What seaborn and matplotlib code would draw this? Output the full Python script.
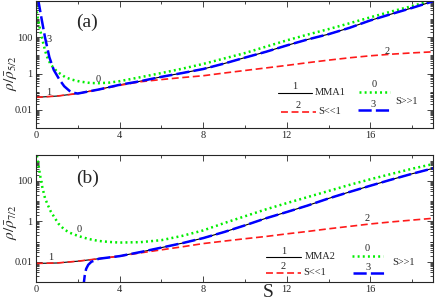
import numpy as np
import seaborn as sns
import matplotlib.pyplot as plt
from matplotlib.ticker import FixedLocator, LogLocator, NullFormatter

# ---- panel (a) data ----
s_a = [0, 1, 2, 3, 4, 5, 6, 7, 8, 9, 10, 11, 12, 13, 14, 15, 16, 17, 18, 19]
mma1_a = [0.049, 0.0575, 0.0794, 0.132, 0.24, 0.38, 0.661, 1.07, 1.78, 3.55,
          7.59, 15.8, 35.5, 75.9, 148, 331, 851, 1905, 4169, 9550]
small_a = [0.049, 0.0575, 0.0794, 0.132, 0.224, 0.355, 0.468, 0.603, 0.759, 1.07,
           1.48, 2.04, 2.82, 3.98, 5.5, 7.41, 9.55, 11.7, 13.8, 15.8]
s_large0_a = [0, 0.1, 0.2, 0.35, 0.5, 0.7, 1.0, 1.4, 1.7, 2.1, 2.6, 3.0, 3.5, 4,
              5, 6, 7, 8, 9, 10, 11, 12, 13, 14, 15, 16, 17, 18, 19]
large0_a = [5012, 891, 251, 44.7, 10, 3.16, 1.32, 0.631, 0.468, 0.363, 0.302, 0.295,
            0.316, 0.38, 0.631, 1.07, 1.86, 3.39, 6.76, 13.5, 30.2, 67.6, 141, 282,
            589, 1259, 2630, 5248, 11220]
s_large3_a = [0.1, 0.27, 0.43, 0.64, 0.85, 1.12, 1.35, 1.6, 1.8, 2, 3, 4, 5, 6, 7, 8,
              9, 10, 11, 12, 13, 14, 15, 16, 17, 18, 19]
large3_a = [12590, 1000, 100, 7.94, 1.58, 0.468, 0.2, 0.112, 0.0871, 0.0794, 0.132,
            0.24, 0.38, 0.661, 1.07, 1.78, 3.55, 7.59, 15.8, 35.5, 75.9, 148, 331,
            851, 1905, 4169, 9550]

# ---- panel (b) data ----
s_b = [0, 1, 2, 3, 4, 5, 6, 7, 8, 9, 10, 11, 12, 13, 14, 15, 16, 17, 18, 19]
mma2_b = [0.0083, 0.0087, 0.0107, 0.0141, 0.019, 0.0302, 0.0501, 0.0832, 0.148, 0.295,
          0.631, 1.41, 2.88, 6.03, 13.5, 28.2, 57.5, 115, 224, 417]
small_b = [0.0083, 0.0087, 0.0107, 0.0141, 0.019, 0.0275, 0.0389, 0.055, 0.0794, 0.105,
           0.138, 0.178, 0.24, 0.316, 0.427, 0.562, 0.741, 0.933, 1.15, 1.41]
s_large0_b = [0, 0.1, 0.2, 0.3, 0.43, 0.56, 0.7, 0.88, 1.07, 1.36, 1.63, 2.0, 2.5, 3.0,
              3.5, 4, 5, 6, 7, 8, 9, 10, 11, 12, 13, 14, 15, 16, 17, 18, 19]
large0_b = [3162, 794, 178, 50.1, 14.1, 6.61, 3.16, 1.58, 0.776, 0.389, 0.269, 0.191,
            0.135, 0.107, 0.0955, 0.0891, 0.0933, 0.117, 0.191, 0.355, 0.813, 1.78,
            3.89, 7.94, 15.8, 31.6, 63.1, 120, 219, 398, 676]
s_large3_b = [2.26, 2.33, 2.4, 2.5, 2.65, 2.85, 3, 4, 5, 6, 7, 8, 9, 10, 11, 12, 13,
              14, 15, 16, 17, 18, 19]
large3_b = [0.0005, 0.002, 0.00447, 0.00708, 0.01, 0.012, 0.0141, 0.019, 0.0302,
            0.0501, 0.0832, 0.148, 0.295, 0.631, 1.41, 2.88, 6.03, 13.5, 28.2, 57.5,
            115, 224, 417]

sns.set_style('ticks')
plt.rcParams['font.family'] = ['Liberation Serif', 'DejaVu Serif']
plt.rcParams['mathtext.fontset'] = 'stix'
plt.rcParams['lines.scale_dashes'] = False

GREEN = '#00ee00'
RED = '#ff1a1a'
BLUE = '#0000ff'
styles = {
    'black': dict(color='black', lw=0.8, linestyle='-'),
    'red': dict(color=RED, lw=1.2, linestyle=(0, (5, 2.6))),
    'green': dict(color=GREEN, lw=1.8, linestyle=(0, (1.4, 2.3))),
    'blue': dict(color=BLUE, lw=1.8, linestyle=(0, (9.5, 3))),
}

fig = plt.figure(figsize=(4.36, 3.01), dpi=100)
ax_a = fig.add_axes([36 / 436, 173 / 301, 397 / 436, 127 / 301])
ax_b = fig.add_axes([36 / 436, 19 / 301, 397 / 436, 127 / 301])


def draw(ax, s_m, mma, small, s0, large0, s3, large3):
    sns.lineplot(x=s0, y=large0, ax=ax, estimator=None, sort=False, **styles['green'])
    sns.lineplot(x=s_m, y=mma, ax=ax, estimator=None, sort=False, **styles['black'])
    sns.lineplot(x=s_m, y=small, ax=ax, estimator=None, sort=False, **styles['red'])
    sns.lineplot(x=s3, y=large3, ax=ax, estimator=None, sort=False, **styles['blue'])


draw(ax_a, s_a, mma1_a, small_a, s_large0_a, large0_a, s_large3_a, large3_a)
draw(ax_b, s_b, mma2_b, small_b, s_large0_b, large0_b, s_large3_b, large3_b)

ax_a.set_ylim(1e-3, 1e4)
ax_b.set_ylim(1e-3, 1900)

for ax in (ax_a, ax_b):
    ax.set_yscale('log')
    ax.set_xlim(0, 19)
    ax.set_xticks([0, 4, 8, 12, 16])
    ax.set_xticks([2, 6, 10, 14, 18], minor=True)
    ax.yaxis.set_major_locator(FixedLocator([1e-2, 1, 1e2, 1e4]))
    ax.yaxis.set_minor_locator(LogLocator(base=10, subs=np.arange(1, 10), numticks=50))
    ax.yaxis.set_minor_formatter(NullFormatter())
    ax.set_yticklabels(['0.01', '1', '100', ''])
    ax.tick_params(which='both', direction='in', top=True, right=True,
                   labelsize=7.5, width=0.6, pad=2.5)
    ax.tick_params(which='major', length=4)
    ax.tick_params(which='minor', length=2.2)
    for sp in ax.spines.values():
        sp.set_linewidth(0.8)
    ax.set_xlabel('')

ax_a.set_ylabel(r'$\rho/\bar{\rho}_{5/2}$', fontsize=11)
ax_b.set_ylabel(r'$\rho/\bar{\rho}_{7/2}$', fontsize=11)
ax_a.yaxis.set_label_coords(-0.043, 0.43)
ax_b.yaxis.set_label_coords(-0.043, 0.47)
fig.text(268 / 436, 4 / 301, 'S', fontsize=14, ha='center', va='baseline')

ax_a.text(0.129, 0.835, '(a)', transform=ax_a.transAxes, fontsize=14, ha='center', va='center')
ax_b.text(0.129, 0.815, '(b)', transform=ax_b.transAxes, fontsize=14, ha='center', va='center')

fs = 7.5
# curve labels
ax_a.text(0.62, 0.089, '1', fontsize=fs, ha='center', va='center')
ax_a.text(0.62, 76, '3', fontsize=fs, ha='center', va='center')
ax_a.text(3.0, 0.47, '0', fontsize=fs, ha='center', va='center')
ax_a.text(16.8, 16.5, '2', fontsize=fs, ha='center', va='center')
ax_b.text(0.72, 0.016, '1', fontsize=fs, ha='center', va='center')
ax_b.text(2.06, 0.39, '0', fontsize=fs, ha='center', va='center')
ax_b.text(15.84, 1.35, '2', fontsize=fs, ha='center', va='center')


# hand-made legends (axes fraction coordinates)
def legend(ax, name, rows):
    t = ax.transAxes
    (bx0, bx1, by), (gx0, gx1, gy), (rx0, rx1, ry), (ux0, ux1, uy), sx, sy = rows
    ax.plot([bx0, bx1], [by, by], transform=t, **styles['black'])
    ax.plot([gx0, gx1], [gy, gy], transform=t, **styles['green'])
    ax.plot([rx0, rx1], [ry, ry], transform=t, **styles['red'])
    ax.plot([ux0, ux1], [uy, uy], transform=t, **styles['blue'])
    ax.text((bx0 + bx1) / 2, by + 0.047, '1', transform=t, fontsize=fs, ha='center', va='center')
    ax.text((gx0 + gx1) / 2, gy + 0.056, '0', transform=t, fontsize=fs, ha='center', va='center')
    ax.text((rx0 + rx1) / 2, ry + 0.05, '2', transform=t, fontsize=fs, ha='center', va='center')
    ax.text((ux0 + ux1) / 2, uy + 0.045, '3', transform=t, fontsize=fs, ha='center', va='center')
    ax.text(bx1 + 0.008, by, name, transform=t, fontsize=fs, ha='left', va='center')
    ax.text(rx1 + 0.006, ry, 'S<<1', transform=t, fontsize=fs, ha='left', va='center')
    ax.text(sx, sy, 'S>>1', transform=t, fontsize=fs, ha='left', va='center')


legend(ax_a, 'MMA1', [(0.610, 0.695, 0.276), (0.814, 0.892, 0.283),
                      (0.617, 0.705, 0.126), (0.811, 0.889, 0.142), 0.904, 0.205])
legend(ax_b, 'MMA2', [(0.579, 0.668, 0.197), (0.796, 0.874, 0.205),
                      (0.579, 0.668, 0.071), (0.798, 0.877, 0.071), 0.897, 0.150])

fig.savefig('out.png', dpi=100)
